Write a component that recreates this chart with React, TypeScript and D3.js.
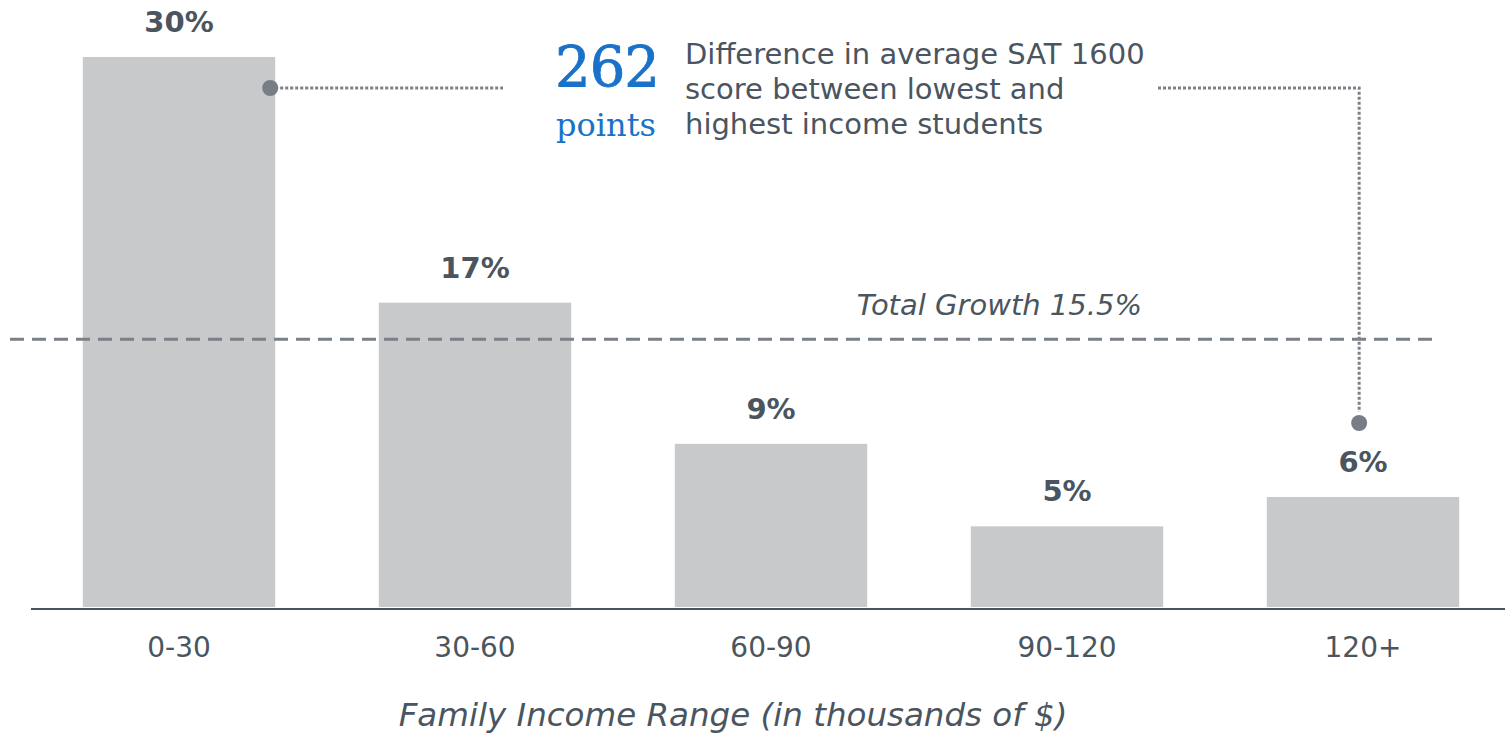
import React from 'react';
import * as d3 from 'd3';

// data
const categories = ['0-30', '30-60', '60-90', '90-120', '120+'];
const values = [30, 16.6, 8.9, 4.4, 6.0];
const valueLabels = ['30%', '17%', '9%', '5%', '6%'];
const growthValue = 14.6;
const growthLabel = 'Total Growth 15.5%';
const bigNumber = '262';
const bigUnit = 'points';
const noteLines = ['Difference in average SAT 1600', 'score between lowest and', 'highest income students'];
const axisTitle = 'Family Income Range (in thousands of $)';

const App = () => {
  const width = 1505;
  const height = 733;
  const baseline = 607;

  const x = d3
    .scaleBand<string>()
    .domain(categories)
    .range([31, 1511])
    .paddingInner(0.35)
    .paddingOuter(0.175);

  const y = d3.scaleLinear().domain([0, 30]).range([baseline, 57]);

  const textColor = '#4a5560';
  const font = '"DejaVu Sans", Verdana, sans-serif';

  const firstCenter = x(categories[0])! + x.bandwidth();
  const lastCenter = x(categories[4])! + x.bandwidth() * 0.48;
  const leaderY = 88;

  return (
    <svg
      width={width}
      height={height}
      style={{ position: 'absolute', left: 0, top: 0, background: '#fff' }}
    >
      {/* bars */}
      {categories.map((c, i) => (
        <rect
          key={c}
          x={x(c)}
          y={y(values[i])}
          width={x.bandwidth()}
          height={baseline - y(values[i])}
          fill="#c8c9cb"
        />
      ))}

      {/* value labels */}
      {categories.map((c, i) => (
        <text
          key={c + 'l'}
          x={x(c)! + x.bandwidth() / 2}
          y={y(values[i]) - 25}
          textAnchor="middle"
          fontFamily={font}
          fontWeight="bold"
          fontSize={29}
          fill={textColor}
        >
          {valueLabels[i]}
        </text>
      ))}

      {/* axis */}
      <line x1={31} x2={1505} y1={baseline + 2} y2={baseline + 2} stroke={textColor} strokeWidth={2} />
      {categories.map(c => (
        <text
          key={c + 't'}
          x={x(c)! + x.bandwidth() / 2}
          y={657}
          textAnchor="middle"
          fontFamily={font}
          fontSize={28}
          fill={textColor}
        >
          {c}
        </text>
      ))}
      <text
        x={733}
        y={726}
        textAnchor="middle"
        fontFamily={font}
        fontStyle="italic"
        fontSize={32.5}
        fill={textColor}
      >
        {axisTitle}
      </text>

      {/* total growth line */}
      <line
        x1={10}
        x2={1432}
        y1={y(growthValue)}
        y2={y(growthValue)}
        stroke="#7a8088"
        strokeWidth={3}
        strokeDasharray="14 8"
      />
      <text
        x={1142}
        y={315}
        textAnchor="end"
        fontFamily={font}
        fontStyle="italic"
        fontSize={29}
        fill={textColor}
      >
        {growthLabel}
      </text>

      {/* annotation leaders */}
      <path
        d={`M${firstCenter - 5},${leaderY}H503`}
        fill="none"
        stroke="#7c8188"
        strokeWidth={3}
        strokeDasharray="3 2"
      />
      <circle cx={firstCenter - 5} cy={leaderY} r={8} fill="#787e86" />
      <path
        d={`M1158,${leaderY}H${lastCenter}V412`}
        fill="none"
        stroke="#7c8188"
        strokeWidth={3}
        strokeDasharray="3 2"
      />
      <circle cx={lastCenter} cy={423} r={8} fill="#787e86" />

      {/* annotation text */}
      <text
        x={607}
        y={86}
        textAnchor="middle"
        fontFamily='"DejaVu Serif", serif'
        fontSize={56}
        fill="#1a72c8"
        stroke="#1a72c8"
        strokeWidth={0.8}
        style={{ letterSpacing: '-1px' }}
      >
        {bigNumber}
      </text>
      <text
        x={606}
        y={136}
        textAnchor="middle"
        fontFamily='"DejaVu Serif", serif'
        fontSize={32}
        fill="#1a72c8"
      >
        {bigUnit}
      </text>
      {noteLines.map((t, i) => (
        <text
          key={t}
          x={685}
          y={64 + i * 35}
          fontFamily={font}
          fontSize={29}
          fill={textColor}
        >
          {t}
        </text>
      ))}
    </svg>
  );
};

export default App;
